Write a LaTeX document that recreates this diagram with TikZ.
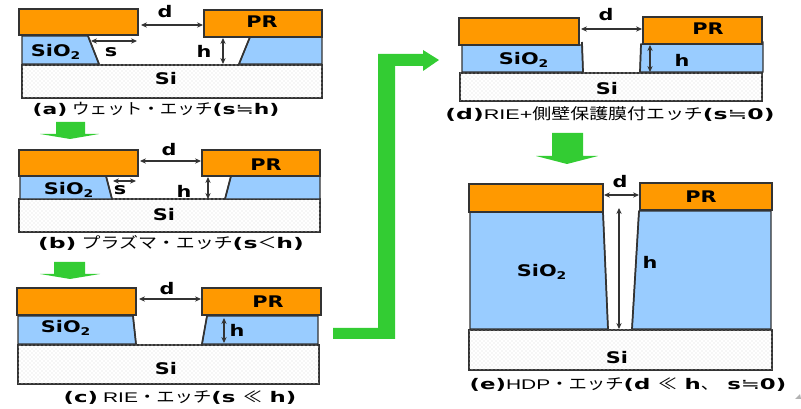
\documentclass[tikz,border=0pt]{standalone}
\usepackage{fontspec}
\usepackage{graphicx}
\usetikzlibrary{arrows.meta,patterns}
\setmainfont{DejaVu Sans}
\newfontfamily\labelfont[FakeStretch=1.3]{DejaVu Sans Bold}
\newfontfamily\kanafont{Noto Sans CJK JP}
\newfontfamily\plainfont[FakeStretch=1.25]{Liberation Sans}
\newfontfamily\symbfont[FakeStretch=1.3]{DejaVu Sans}
\definecolor{prorange}{RGB}{255,153,0}
\definecolor{oxblue}{RGB}{153,204,255}
\definecolor{arrowgreen}{RGB}{51,204,51}
\definecolor{edgegray}{RGB}{51,51,51}
\tikzset{
  prbox/.style={draw=edgegray,line width=1.2pt,fill=prorange},
  oxbox/.style={draw=edgegray,line width=0.9pt,fill=oxblue},
  sibox/.style={draw=edgegray,line width=1.2pt,fill=white,postaction={pattern=crosshatch dots,pattern color=black!14}},
  wall/.style={draw=edgegray,line width=1.3pt},
  dimline/.style={{Stealth[length=4.5pt,width=4pt]}-{Stealth[length=4.5pt,width=4pt]},edgegray,line width=0.8pt},
  flowarrow/.style={fill=arrowgreen,draw=none},
  lbl/.style={inner sep=0pt,font=\labelfont\fontsize{12}{13}\selectfont},
  capt/.style={inner sep=0pt,font=\fontsize{10}{11}\selectfont}
}
\newcommand{\ja}[1]{{\kanafont\fontsize{11.5}{12}\selectfont #1}}
\newcommand{\lt}[1]{{\labelfont\fontsize{11}{12}\selectfont #1}}
\newcommand{\pl}[1]{{\plainfont\fontsize{10.5}{12}\selectfont #1}}
\newcommand{\nearly}{{\symbfont\fontsize{11}{12}\selectfont ≒}}
\begin{document}
\begin{tikzpicture}[x=0.75pt,y=0.75pt,yscale=-1,xscale=1]
\useasboundingbox (0,0) rectangle (801,409);
% Panel a
\draw [sibox] (22,65) rectangle (322,98);
\draw [oxbox] (22,36) -- (88,36) -- (99,64) -- (22,64) -- cycle;
\draw [oxbox] (250,37) -- (239,64) -- (322,64) -- (322,37) -- cycle;
\draw [wall] (88,36) -- (99,64);
\draw [wall] (250,37) -- (239,64);
\draw [prbox] (19,9) rectangle (138,35);
\draw [prbox] (204,10) rectangle (322,37);
\draw [dimline] (141,25) -- (203,25);
\draw [dimline] (91,41) -- (137,41);
\draw [dimline] (223,38) -- (223,64);
% Text Node
\node (da) [lbl] at (165,12) {d};
\node (sa) [lbl] at (111,52) {s};
\node (ha) [lbl] at (204,51) {h};
\node (pra) [lbl] at (262,22) {PR};
\node (oxa) [lbl] at (56,52) {SiO\textsubscript{2}};
\node (sia) [lbl] at (166,79) {Si};
\node (capa) [capt] at (156,109) {\scalebox{1.145}[1]{\lt{(a)} \ja{ウェット・エッチ}\lt{(s}\nearly\lt{h)}}};
% Arrow a to b
\fill [flowarrow] (56,122) -- (85,122) -- (85,134) -- (99,134) -- (70,139) -- (40,134) -- (56,134) -- cycle;
% Panel b
\draw [sibox] (19,199) rectangle (320,232);
\draw [oxbox] (20,176) -- (106,176) -- (112,199) -- (20,199) -- cycle;
\draw [oxbox] (231,176) -- (225,199) -- (320,199) -- (320,176) -- cycle;
\draw [wall] (106,176) -- (112,199);
\draw [wall] (231,176) -- (225,199);
\draw [prbox] (19,150) rectangle (138,176);
\draw [prbox] (202,150) rectangle (320,176);
\draw [dimline] (140,161) -- (201,161);
\draw [dimline] (113,181) -- (136,181);
\draw [dimline] (208,177) -- (208,199);
% Text Node
\node (db) [lbl] at (169,150) {d};
\node (sb) [lbl] at (120,190) {s};
\node (hb) [lbl] at (184,191) {h};
\node (prb) [lbl] at (266,165) {PR};
\node (oxb) [lbl] at (69,190) {SiO\textsubscript{2}};
\node (sib) [lbl] at (164,215) {Si};
\node (capb) [capt] at (171,243) {\scalebox{1.235}[1]{\lt{(b)} \ja{プラズマ・エッチ}\lt{(s}\ja{＜}\lt{h)}}};
% Arrow b to c
\fill [flowarrow] (54,262) -- (85,262) -- (85,274) -- (100,274) -- (70,279) -- (40,274) -- (54,274) -- cycle;
% Panel c
\draw [sibox] (18,345) rectangle (319,384);
\draw [oxbox] (18,316) -- (133,316) -- (136,344) -- (18,344) -- cycle;
\draw [oxbox] (207,316) -- (202,344) -- (318,344) -- (318,316) -- cycle;
\draw [wall] (133,316) -- (136,344);
\draw [wall] (207,316) -- (202,344);
\draw [prbox] (17,288) rectangle (136,315);
\draw [prbox] (202,288) rectangle (321,315);
\draw [dimline] (139,299) -- (201,299);
\draw [dimline] (224,318) -- (224,343);
% Text Node
\node (dc) [lbl] at (167,289) {d};
\node (hc) [lbl] at (237,330) {h};
\node (prc) [lbl] at (268,302) {PR};
\node (oxc) [lbl] at (66,328) {SiO\textsubscript{2}};
\node (sic) [lbl] at (166,369) {Si};
\node (capc) [capt] at (180,398) {\scalebox{1.197}[1]{\lt{(c)} \pl{RIE}\ja{・エッチ}\lt{(s }\ja{≪}\lt{ h)}}};
% Arrow c to d
\fill [flowarrow] (333,328) -- (378,328) -- (378,54) -- (423,54) -- (423,50) -- (439,60) -- (423,71) -- (423,66) -- (395,66) -- (395,339) -- (333,339) -- cycle;
% Panel d
\draw [sibox] (460,73) rectangle (762,101);
\draw [oxbox] (462,45) -- (582,45) -- (583,72) -- (462,72) -- cycle;
\draw [oxbox] (641,44) -- (640,72) -- (763,72) -- (763,42) -- cycle;
\draw [wall] (582,42) -- (583,72);
\draw [wall] (641,44) -- (640,72);
\draw [prbox] (459,18) rectangle (579,45);
\draw [prbox] (643,17) rectangle (762,44);
\draw [dimline] (581,29) -- (642,29);
\draw [dimline] (650,45) -- (650,72);
% Text Node
\node (dd) [lbl] at (606,15) {d};
\node (hd) [lbl] at (682,60) {h};
\node (prd) [lbl] at (708,29) {PR};
\node (oxd) [lbl] at (524,60) {SiO\textsubscript{2}};
\node (sid) [lbl] at (607,89) {Si};
\node (capd) [capt] at (610,114) {\scalebox{1.235}[1]{\lt{(d)}\pl{RIE+}\ja{側壁保護膜付エッチ}\lt{(s}\nearly\lt{0)}}};
% Arrow d to e
\fill [flowarrow] (552,133) -- (583,133) -- (583,156) -- (598,156) -- (567,164) -- (536,156) -- (552,156) -- cycle;
% Panel e
\draw [sibox] (469,330) rectangle (772,370);
\draw [oxbox] (470,212) -- (603,212) -- (608,329) -- (470,329) -- cycle;
\draw [oxbox] (639,211) -- (632,329) -- (771,329) -- (771,211) -- cycle;
\draw [wall] (603,212) -- (608,329);
\draw [wall] (639,211) -- (632,329);
\draw [prbox] (469,184) rectangle (603,212);
\draw [prbox] (640,183) rectangle (772,210);
\draw [dimline] (604,195) -- (639,195);
\draw [dimline] (619,208) -- (619,329);
% Text Node
\node (de) [lbl] at (620,182) {d};
\node (he) [lbl] at (650,262) {h};
\node (pre) [lbl] at (701,197) {PR};
\node (oxe) [lbl] at (542,272) {SiO\textsubscript{2}};
\node (sie) [lbl] at (617,358) {Si};
\node (cape) [capt] at (628,385) {\scalebox{1.197}[1]{\lt{(e)}\pl{HDP}\ja{・エッチ}\lt{(d }\ja{≪}\lt{ h}\ja{、}\lt{ s}\nearly\lt{0)}}};
% Corner mark
\fill [gray!60] (795,399) -- (800,394) -- (801,399) -- cycle;
\end{tikzpicture}
\end{document}
